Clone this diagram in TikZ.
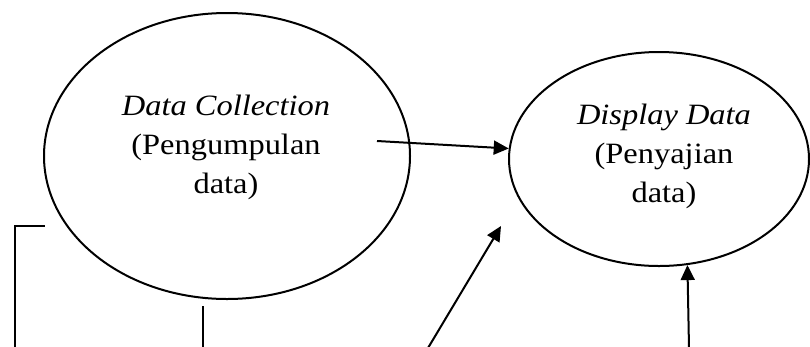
\documentclass[tikz,border=0pt]{standalone}
\usepackage{fontspec}
\setmainfont[FakeStretch=1.1]{Liberation Serif}
\usetikzlibrary{arrows.meta,shapes.geometric}
\tikzset{
  proc/.style={draw,ellipse,line width=2pt,inner sep=0pt},
  proclabel/.style={align=center,font=\fontsize{29.5}{39}\selectfont},
  flow/.style={line width=2pt,-{Triangle[length=15pt,width=14pt]}},
  link/.style={line width=2pt}
}
\begin{document}
\begin{tikzpicture}[x=1pt,y=-1pt]
\useasboundingbox (0,0) rectangle (810,346);
% the two processes
\node[proc,minimum width=366pt,minimum height=286pt] (collect) at (227,156) {};
\node[proclabel] (collecttext) at (226,147) {\textit{Data Collection}\\(Pengumpulan\\data)};
\node[proc,minimum width=300pt,minimum height=214pt] (display) at (659,159) {};
\node[proclabel] (displaytext) at (664,156) {\textit{Display Data}\\(Penyajian\\data)};
% free ends
\coordinate (collectout) at (377,141);
\coordinate (redin) at (428,348);
\coordinate (redtip) at (501,226);
\coordinate (concin) at (689,348);
\coordinate (loopdown) at (15,348);
\coordinate (loopcorner) at (15,226);
\coordinate (loopend) at (45,226);
\coordinate (stubtop) at (203,306);
\coordinate (stubdown) at (203,348);
% arrows
\draw[flow] (collectout) -- (display.176);
\draw[flow] (redin) -- (redtip);
\draw[flow] (concin) -- (display.-75);
\draw[link] (loopdown) -- (loopcorner) -- (loopend);
\draw[link] (stubtop) -- (stubdown);
\end{tikzpicture}
\end{document}
